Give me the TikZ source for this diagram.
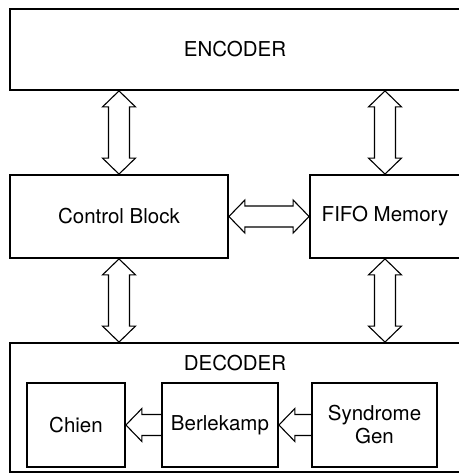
\documentclass[tikz,border=0pt]{standalone}
\usepackage{fontspec}
\setmainfont{TeX Gyre Heros}
\usetikzlibrary{calc}

\tikzset{
  block/.style={draw, line width=1.8pt, rectangle, inner sep=0pt, align=center,
    font=\fontsize{20.5}{23}\selectfont},
  bus/.style={line width=1.1pt, line join=miter},
}

% hollow bus arrows (tip to tip)
\newcommand\vbus[2]{%
  \draw[bus] let \p1=(#1), \p2=(#2) in
    (\x1,\y1) -- (\x1+16.5pt,\y1-16pt) -- (\x1+10.5pt,\y1-16pt)
    -- (\x1+10.5pt,\y2+16pt) -- (\x1+16.5pt,\y2+16pt) -- (\x1,\y2)
    -- (\x1-16.5pt,\y2+16pt) -- (\x1-10.5pt,\y2+16pt)
    -- (\x1-10.5pt,\y1-16pt) -- (\x1-16.5pt,\y1-16pt) -- cycle;}
\newcommand\hbus[2]{%
  \draw[bus] let \p1=(#1), \p2=(#2) in
    (\x1,\y1) -- (\x1+16pt,\y1+16.5pt) -- (\x1+16pt,\y1+10.5pt)
    -- (\x2-16pt,\y1+10.5pt) -- (\x2-16pt,\y1+16.5pt) -- (\x2,\y1)
    -- (\x2-16pt,\y1-16.5pt) -- (\x2-16pt,\y1-10.5pt)
    -- (\x1+16pt,\y1-10.5pt) -- (\x1+16pt,\y1-16.5pt) -- cycle;}
\newcommand\lbus[2]{%
  \draw[bus] let \p1=(#1), \p2=(#2) in
    (\x2,\y1+10.5pt) -- (\x1+16pt,\y1+10.5pt) -- (\x1+16pt,\y1+16.5pt)
    -- (\x1,\y1) -- (\x1+16pt,\y1-16.5pt) -- (\x1+16pt,\y1-10.5pt)
    -- (\x2,\y1-10.5pt);}

\begin{document}
\begin{tikzpicture}[x=1pt, y=-1pt]
  \useasboundingbox (0,0) rectangle (458,474);

  \node[block, minimum width=450pt, minimum height=81pt] (enc) at (235,49.5) {ENCODER};
  \node[block, minimum width=218pt, minimum height=83pt] (ctrl) at (119,216.5) {Control Block};
  \node[block, minimum width=150pt, minimum height=83pt] (fifo) at (385,216.5) {FIFO Memory};
  \node[block, minimum width=450pt, minimum height=129pt] (dec) at (235,407.5) {};
  \node[font=\fontsize{20.5}{23}\selectfont] (declabel) at (235,363) {DECODER};

  \node[block, minimum width=98pt, minimum height=84pt] (chien) at (76,425) {Chien};
  \node[block, minimum width=116pt, minimum height=84pt] (berl) at (220,425) {Berlekamp};
  \node[block, minimum width=125pt, minimum height=84pt] (synd) at (374.5,425) {Syndrome\\Gen};

  \vbus{enc.south -| ctrl.north}{ctrl.north}
  \vbus{enc.south -| fifo.north}{fifo.north}
  \vbus{ctrl.south}{dec.north -| ctrl.south}
  \vbus{fifo.south}{dec.north -| fifo.south}
  \hbus{ctrl.east}{fifo.west}
  \lbus{chien.east}{berl.west}
  \lbus{berl.east}{synd.west}
\end{tikzpicture}
\end{document}
